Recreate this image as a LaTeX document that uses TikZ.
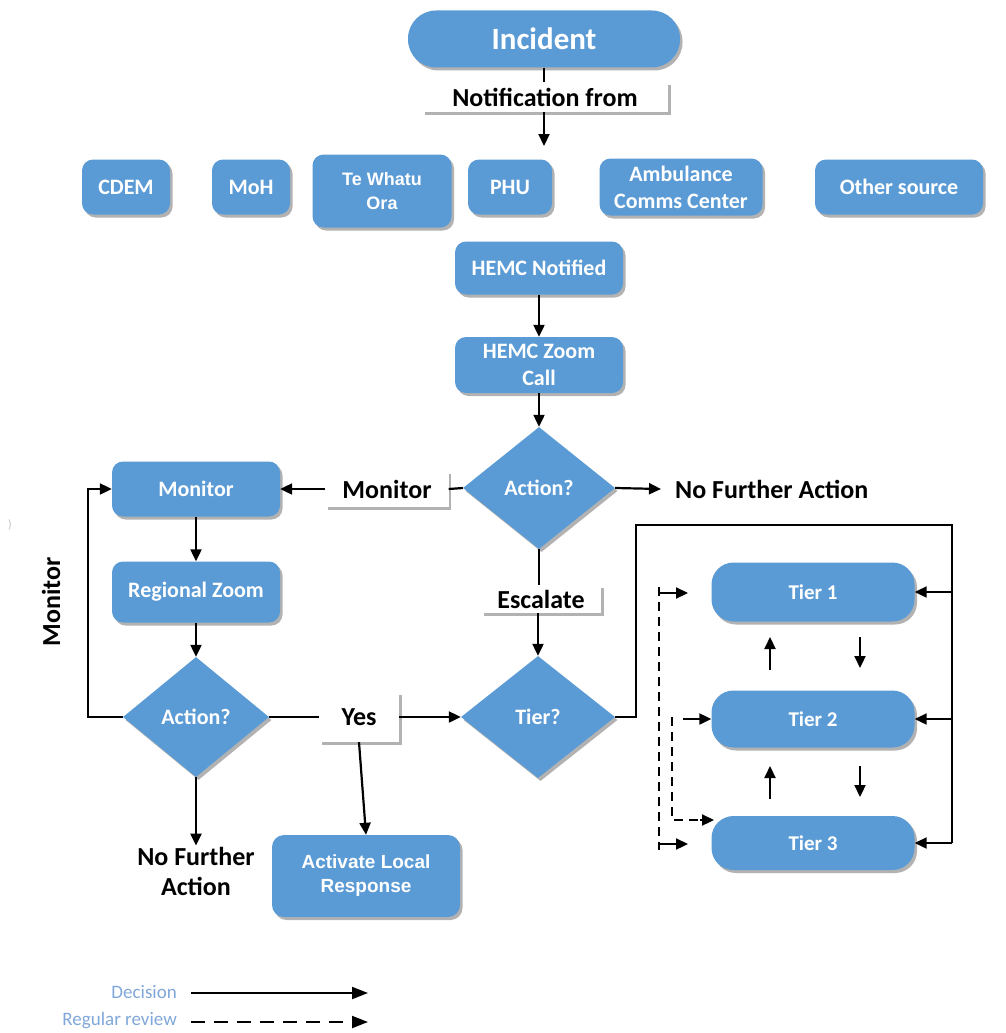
\documentclass[tikz,border=0pt]{standalone}
\usepackage{fontspec}
\setmainfont{Carlito}
\newfontfamily\arialf{Liberation Sans}
\usetikzlibrary{shapes.geometric,arrows.meta,shadows}
\definecolor{boxblue}{HTML}{5B9BD5}
\definecolor{legblue}{HTML}{7FA7D9}
\begin{document}
\begin{tikzpicture}[x=1pt,y=-1pt,
  shad/.style={drop shadow={shadow xshift=2.5pt,shadow yshift=-3pt,opacity=0.3,fill=black}},
  bbox/.style={fill=boxblue,rounded corners=11pt,text=white,align=center,inner sep=0pt,
    font=\bfseries\fontsize{22}{27}\selectfont,shad},
  dia/.style={diamond,fill=boxblue,text=white,inner sep=0pt,
    font=\bfseries\fontsize{22}{24}\selectfont,shad},
  lbl/.style={fill=white,inner sep=0pt,font=\bfseries\fontsize{26}{28}\selectfont,shad},
  plaintxt/.style={font=\bfseries\fontsize{26}{30}\selectfont,align=center},
  conn/.style={line width=2.2pt,draw=black},
  arr/.style={conn,-{Triangle[length=12pt,width=11pt]}},
  rev/.style={line width=2pt,dash pattern=on 9pt off 6pt},
]
\useasboundingbox (0,0) rectangle (1005,1033);

% top
\node[bbox,rounded corners=28pt,minimum width=272pt,minimum height=57pt,
  font=\bfseries\fontsize{31}{33}\selectfont] (inc) at (544,39) {Incident};
\node[lbl,minimum width=246pt,minimum height=30pt] (notif) at (545,97) {Notification from};
\coordinate (notifend) at (544,146);

% sources
\node[bbox,minimum width=88pt,minimum height=55pt] (cdem) at (126,187) {CDEM};
\node[bbox,minimum width=78pt,minimum height=55pt] (moh) at (251,187) {MoH};
\node[bbox,minimum width=139pt,minimum height=73pt,
  font=\arialf\bfseries\fontsize{18}{24}\selectfont] (twora) at (382,191) {Te Whatu\\Ora};
\node[bbox,minimum width=84pt,minimum height=55pt] (phu) at (510,187) {PHU};
\node[bbox,minimum width=163pt,minimum height=57pt] (amb) at (681,187) {Ambulance\\Comms Center};
\node[bbox,minimum width=168pt,minimum height=55pt] (other) at (899,187) {Other source};

% HEMC
\node[bbox,minimum width=168pt,minimum height=53pt] (hn) at (539,268) {HEMC Notified};
\node[bbox,minimum width=168pt,minimum height=56pt] (hz) at (539,365) {HEMC Zoom\\Call};
\node[dia,minimum width=152pt,minimum height=122pt] (act1) at (539,488) {Action?};

% left branch
\node[lbl,minimum width=123pt,minimum height=36pt] (monlbl) at (387,489) {Monitor};
\node[bbox,minimum width=168pt,minimum height=55pt] (mon) at (196,489) {Monitor};
\node[bbox,minimum width=168pt,minimum height=61pt] (rz) at (196,592) {Regional Zoom};
\node[dia,minimum width=146pt,minimum height=120pt] (act2) at (196,717) {Action?};
\node[plaintxt,rotate=90] (monrot) at (51,602) {Monitor};
\node[lbl,minimum width=80pt,minimum height=50pt] (yes) at (359,717) {Yes};
\node[bbox,rounded corners=12pt,minimum width=188pt,minimum height=82pt,
  font=\arialf\bfseries\fontsize{19}{24}\selectfont] (alr) at (366,876) {Activate Local\\Response};
\node[plaintxt,inner sep=1pt] (nfa2) at (196,871) {No Further\\Action};

% centre / right
\node[plaintxt,anchor=west,inner sep=0pt,inner xsep=14pt] (nfa1) at (661,489) {No Further Action};
\node[lbl,minimum width=120pt,minimum height=28pt] (esc) at (541,599) {Escalate};
\node[dia,minimum width=154pt,minimum height=122pt] (tier) at (538,717) {Tier?};

\node[bbox,rounded corners=22pt,minimum width=203pt,minimum height=59pt,
  font=\bfseries\fontsize{21}{24}\selectfont] (t1) at (813,592) {Tier 1};
\node[bbox,rounded corners=22pt,minimum width=203pt,minimum height=57pt,
  font=\bfseries\fontsize{21}{24}\selectfont] (t2) at (813,719) {Tier 2};
\node[bbox,rounded corners=22pt,minimum width=203pt,minimum height=54pt,
  font=\bfseries\fontsize{21}{24}\selectfont] (t3) at (813,843) {Tier 3};

\node[text=gray!50,font=\fontsize{12}{12}\selectfont] (stray) at (10,525) {)};

% connectors
\draw[conn] (inc.south) -- (inc.south |- notif.north);
\draw[arr] (notif.south -| notifend) -- (notifend);
\draw[arr] (hn) -- (hz);
\draw[arr] (hz) -- (act1);
\draw[conn] (act1.west) -- (monlbl.east);
\draw[arr] (monlbl.west) -- (mon.east);
\draw[arr] (mon) -- (rz);
\draw[arr] (rz) -- (act2);
\draw[arr] (act2.west) -- ++(-35,0) |- (mon.west);
\draw[conn] (act2.east) -- (yes.west);
\draw[arr] (yes.east) -- (tier.west);
\draw[arr] (yes.south) -- (alr.north);
\draw[arr] (act2.south) -- (nfa2.north);
\draw[arr] (act1.east) -- (nfa1.west);
\draw[conn] (act1.south) -- (esc.north -| act1.south);
\draw[arr] (esc.south -| tier.north) -- (tier.north);

% tier loop
\coordinate (lpA) at (636,525);
\coordinate (lpB) at (952,525);
\draw[conn] (tier.east) -| (lpA) -- (lpB) -- (lpB |- t3.east);
\draw[arr] (t1.east -| lpB) -- (t1.east);
\draw[arr] (t2.east -| lpB) -- (t2.east);
\draw[arr] (t3.east -| lpB) -- (t3.east);

% inter-tier arrows
\coordinate (u1a) at (770,670); \coordinate (u1b) at (770,637);
\coordinate (d1a) at (860,637); \coordinate (d1b) at (860,668);
\coordinate (u2a) at (770,799); \coordinate (u2b) at (770,766);
\coordinate (d2a) at (860,766); \coordinate (d2b) at (860,797);
\draw[arr] (u1a) -- (u1b);
\draw[arr] (d1a) -- (d1b);
\draw[arr] (u2a) -- (u2b);
\draw[arr] (d2a) -- (d2b);

% regular review (dashed)
\coordinate (oTop) at (659,593);
\coordinate (oBot) at (659,844);
\coordinate (oTopEnd) at (688,593);
\coordinate (oBotEnd) at (688,844);
\draw[rev] ([yshift=6pt]oTop) -- ([yshift=-6pt]oBot);
\draw[arr] (oTop) -- (oTopEnd);
\draw[arr] (oBot) -- (oBotEnd);
\coordinate (iTop) at (672,717);
\coordinate (iCorner) at (672,820);
\coordinate (iEnd) at (714,820);
\draw[rev] (iTop) -- (iCorner) -- ([xshift=-12pt]iEnd);
\draw[arr] ([xshift=-14pt]iEnd) -- (iEnd);
\coordinate (t2in) at (683,719);
\draw[arr] (t2in) -- (t2.west);

% legend
\node[anchor=east,text=legblue,font=\fontsize{19}{21}\selectfont,inner sep=0pt] (ldec) at (177,992) {Decision};
\node[anchor=east,text=legblue,font=\fontsize{19}{21}\selectfont,inner sep=0pt] (lrev) at (177,1021) {Regular review};
\coordinate (ldecend) at (368,993);
\coordinate (lrevend) at (368,1022);
\draw[line width=2pt,-{Triangle[length=16pt,width=12pt]}] ([xshift=14pt]ldec.east |- ldecend) -- (ldecend);
\draw[line width=2pt,dash pattern=on 14pt off 9pt,-{Triangle[length=16pt,width=12pt]}] ([xshift=14pt]lrev.east |- lrevend) -- (lrevend);
\end{tikzpicture}
\end{document}
